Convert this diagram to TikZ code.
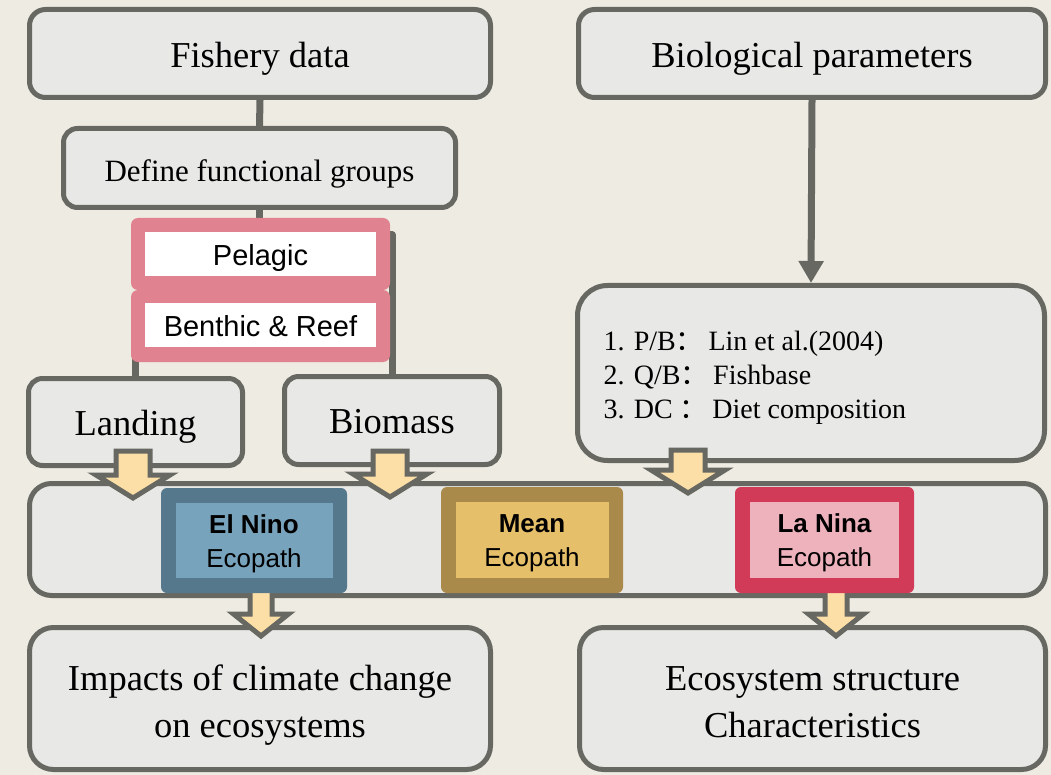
\documentclass[tikz,border=0pt]{standalone}
\usepackage{fontspec}
\setmainfont{Liberation Serif}
\setsansfont{Liberation Sans}
\newfontfamily\cjk{Noto Sans CJK SC}
\usetikzlibrary{arrows.meta,calc}
\definecolor{bgc}{HTML}{EEEBE2}
\definecolor{boxc}{HTML}{E8E8E6}
\definecolor{strokec}{HTML}{686862}
\definecolor{arrowc}{HTML}{FCDFA7}
\definecolor{pinkc}{HTML}{E0828F}
\definecolor{ninoO}{HTML}{56788C}
\definecolor{ninoI}{HTML}{78A3BC}
\definecolor{meanO}{HTML}{A98A4A}
\definecolor{meanI}{HTML}{E5BF69}
\definecolor{ninaO}{HTML}{D13B57}
\definecolor{ninaI}{HTML}{EEB2BD}
\newcommand\lowered[2]{\raisebox{-#1pt}[0pt][0pt]{#2}}
\newcommand\fsBig{\fontsize{36.5}{47}\selectfont}
\newcommand\fsDef{\fontsize{31}{37}\selectfont}
\newcommand\fsPar{\fontsize{28}{34}\selectfont}
\newcommand\fsPink{\sffamily\fontsize{29}{34}\selectfont}
\newcommand\fsEco{\sffamily\fontsize{26}{34}\selectfont}
\newcommand\fatarrow[6]{%
  \path[#6] let \p1=(#1), \p2=(#2) in
    (\x1-#3pt,\y1) -- (\x1+#3pt,\y1) -- (\x1+#3pt,\y2+#5pt) -- (\x1+#4pt,\y2+#5pt)
    -- (\x2,\y2) -- (\x1-#4pt,\y2+#5pt) -- (\x1-#3pt,\y2+#5pt) -- cycle;}
\begin{document}
\begin{tikzpicture}[x=1pt,y=-1pt,
  box/.style={draw=strokec, fill=boxc, line width=5pt, rounded corners=#1, inner sep=0pt},
  box/.default=16pt,
  conn/.style={draw=strokec, line width=7pt, line join=round, line cap=round},
  fat/.style={draw=strokec, fill=arrowc, line width=5pt, line join=miter},
  pinkbox/.style={fill=pinkc, minimum width=259pt, minimum height=72pt, rounded corners=7pt, inner sep=0pt},
  whitebox/.style={fill=white, minimum width=231pt, minimum height=44pt, inner sep=0pt, font=\fsPink},
  ecoO/.style={fill=#1, rounded corners=6pt, inner sep=0pt},
  ecoI/.style={fill=#1, inner sep=0pt, font=\fsEco}
]
\useasboundingbox[fill=bgc] (0,0) rectangle (1051,775);

% top boxes
\node[box, minimum width=461pt, minimum height=88pt, font=\fsBig] (fish) at (260,53.5) {\lowered{14.5}{Fishery data}};
\node[box, minimum width=467pt, minimum height=88pt, font=\fsBig] (bio) at (812,53.5) {\lowered{14.5}{Biological parameters}};
\node[box=14pt, minimum width=392pt, minimum height=79pt, font=\fsDef] (define) at (259.5,168) {\lowered{14}{Define functional groups}};
\node[box=14pt, minimum width=214pt, minimum height=87pt, font=\fsBig] (landing) at (135.5,422) {\lowered{13}{Landing}};
\node[box=14pt, minimum width=215pt, minimum height=88pt, font=\fsBig] (biomass) at (392,420.5) {\lowered{12.5}{Biomass}};
\node[box=30pt, minimum width=467pt, minimum height=175pt, font=\fsPar] (params) at (811,373)
  {\lowered{45}{\begin{tabular}[b]{@{}p{415pt}@{}}1. P/B{\cjk ：}\,Lin et al.(2004)\\2. Q/B{\cjk ：}\,Fishbase\\3. DC {\cjk ：}\,Diet composition\end{tabular}}};

% connectors
\draw[conn] (fish.south) -- (define.north);
\draw[conn] (define.south) |- ($(landing.north)+(0,-70)$) -- (landing.north);
\coordinate (rj) at (392,235);
\draw[conn] (define.south) |- (rj) -- (biomass.north);
\draw[conn, line cap=butt, -{Triangle[width=24pt,length=22pt]}] (bio.south) -- (params.north);

% pink groups
\node[pinkbox] (pelagicbg) at (260.5,254) {};
\node[pinkbox] (benthicbg) at (260.5,326) {};
\node[whitebox] (pelagic) at (260.5,254) {\lowered{11.7}{Pelagic}};
\node[whitebox] (benthic) at (260.5,325) {\lowered{11.7}{Benthic \& Reef}};

% middle and bottom boxes
\node[box=22pt, minimum width=1016pt, minimum height=112pt] (middle) at (537.5,539.5) {};
\node[box=24pt, minimum width=461pt, minimum height=142pt, font=\fsBig] (impacts) at (260,698.5)
  {\lowered{38.5}{\begin{tabular}[b]{@{}c@{}}Impacts of climate change\\on ecosystems\end{tabular}}};
\node[box=24pt, minimum width=466pt, minimum height=142pt, font=\fsBig] (ecosys) at (812.5,698.5)
  {\lowered{38.5}{\begin{tabular}[b]{@{}c@{}}Ecosystem structure\\Characteristics\end{tabular}}};

% bottom fat arrows
\coordinate (b1s) at (261,588); \coordinate (b1t) at (261,636);
\coordinate (b2s) at (836,588); \coordinate (b2t) at (836,636);
\fatarrow{b1s}{b1t}{11}{27.5}{22}{fat}
\fatarrow{b2s}{b2t}{11}{27.5}{22}{fat}

% ecopath boxes
\node[ecoO=ninoO, minimum width=186pt, minimum height=105pt] (ninoOut) at (254,540.5) {};
\node[ecoI=ninoI, minimum width=157pt, minimum height=75pt] (elnino) at (254,540.5)
  {\lowered{26.5}{\begin{tabular}[b]{@{}c@{}}\bfseries El Nino\\Ecopath\end{tabular}}};
\node[ecoO=meanO, minimum width=182pt, minimum height=106pt] (meanOut) at (532,540) {};
\node[ecoI=meanI, minimum width=153pt, minimum height=76pt] (mean) at (532,540)
  {\lowered{26.5}{\begin{tabular}[b]{@{}c@{}}\bfseries Mean\\Ecopath\end{tabular}}};
\node[ecoO=ninaO, minimum width=179pt, minimum height=106pt] (ninaOut) at (824.5,540) {};
\node[ecoI=ninaI, minimum width=149pt, minimum height=76pt] (lanina) at (824.5,540)
  {\lowered{26.5}{\begin{tabular}[b]{@{}c@{}}\bfseries La Nina\\Ecopath\end{tabular}}};

% top fat arrows
\coordinate (a1s) at (133,451); \coordinate (a1t) at (133,498);
\coordinate (a2s) at (390,451); \coordinate (a2t) at (390,497);
\coordinate (a3s) at (688,450); \coordinate (a3t) at (688,493);
\fatarrow{a1s}{a1t}{17}{37}{23}{fat}
\fatarrow{a2s}{a2t}{17}{37}{23}{fat}
\fatarrow{a3s}{a3t}{17}{37}{23}{fat}
\end{tikzpicture}
\end{document}
